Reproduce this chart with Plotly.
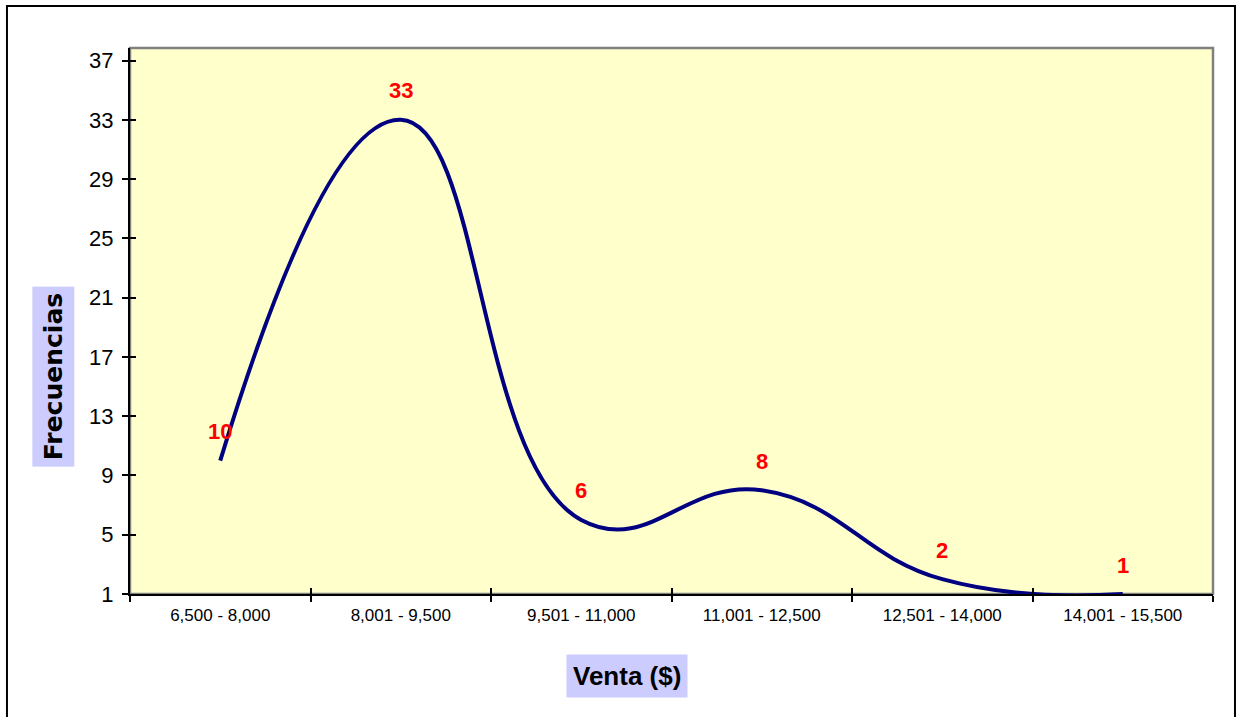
import plotly.graph_objects as go

categories = ["6,500 - 8,000", "8,001 - 9,500", "9,501 - 11,000",
              "11,001 - 12,500", "12,501 - 14,000", "14,001 - 15,500"]
frecuencias = [10, 33, 6, 8, 2, 1]
y_ticks = [1, 5, 9, 13, 17, 21, 25, 29, 33, 37]

FONT = "Liberation Sans, Arial, sans-serif"
Y_RANGE = [1, 37.85]

fig = go.Figure()
fig.add_trace(go.Scatter(
    x=categories, y=frecuencias, mode="lines",
    line=dict(color="#000080", width=4, shape="spline", smoothing=1.3),
    hoverinfo="x+y", showlegend=False,
))
# invisible helper trace so the overlay axes (inner half of crossing ticks) render
fig.add_trace(go.Scatter(
    x=categories, y=frecuencias, xaxis="x2", yaxis="y2", mode="lines",
    line=dict(width=0, color="rgba(0,0,0,0)"), hoverinfo="skip", showlegend=False,
))

for c, v in zip(categories, frecuencias):
    fig.add_annotation(x=c, y=v, text=str(v), showarrow=False, yshift=29,
                       font=dict(family=FONT, size=22, color="#FF0000", weight="bold"))

fig.add_annotation(x=-0.0711, y=0.399, xref="paper", yref="paper", text="Frecuencias",
                   textangle=-90, showarrow=False, bgcolor="#CCCCFF", borderpad=6,
                   xanchor="center", yanchor="middle",
                   font=dict(family="DejaVu Sans, sans-serif", size=25, color="#000000", weight="bold"))
fig.add_annotation(x=0.4589, y=-0.150, xref="paper", yref="paper", text="Venta ($)",
                   showarrow=False, bgcolor="#CCCCFF", borderpad=6,
                   xanchor="center", yanchor="middle",
                   font=dict(family=FONT, size=26, color="#000000", weight="bold"))

# outer chart frame
fig.add_shape(type="rect", xref="paper", yref="paper", x0=-0.1136, x1=1.0203,
              y0=-0.25, y1=1.0769, line=dict(color="#000000", width=2), layer="below")
# gray plot-area border (top and right)
fig.add_shape(type="rect", xref="paper", yref="paper", x0=0, x1=1, y0=0, y1=1,
              line=dict(color="#808080", width=2.5), layer="below")

fig.update_layout(
    width=1238, height=717,
    margin=dict(l=130, r=25, t=48, b=123),
    paper_bgcolor="#FFFFFF", plot_bgcolor="#FFFFCC",
    font=dict(family=FONT, color="#000000"),
    xaxis=dict(type="category", range=[-0.5, 5.5], tickson="boundaries",
               ticks="outside", ticklen=6, tickwidth=1.5, tickcolor="#000000",
               showline=True, linecolor="#000000", linewidth=2, showgrid=False,
               zeroline=False, tickfont=dict(family=FONT, size=17, color="#000000"),
               ticklabelstandoff=5, fixedrange=True),
    yaxis=dict(range=Y_RANGE, tickvals=y_ticks, ticks="outside", ticklen=6,
               tickwidth=1.5, tickcolor="#000000", showline=True, linecolor="#000000",
               linewidth=2, showgrid=False, zeroline=False,
               tickfont=dict(family=FONT, size=22, color="#000000"),
               ticklabelstandoff=4, fixedrange=True),
    xaxis2=dict(type="category", range=[-0.5, 5.5], overlaying="x", anchor="y2",
                tickson="boundaries", ticks="inside", ticklen=6, tickwidth=1.5,
                tickcolor="#000000", showticklabels=False, showline=False,
                showgrid=False, zeroline=False, side="bottom", fixedrange=True),
    yaxis2=dict(range=Y_RANGE, tickvals=y_ticks, overlaying="y", anchor="x2",
                ticks="inside", ticklen=6, tickwidth=1.5, tickcolor="#000000",
                showticklabels=False, showline=False, showgrid=False,
                zeroline=False, side="left", fixedrange=True),
)

fig.write_html("out.html")
